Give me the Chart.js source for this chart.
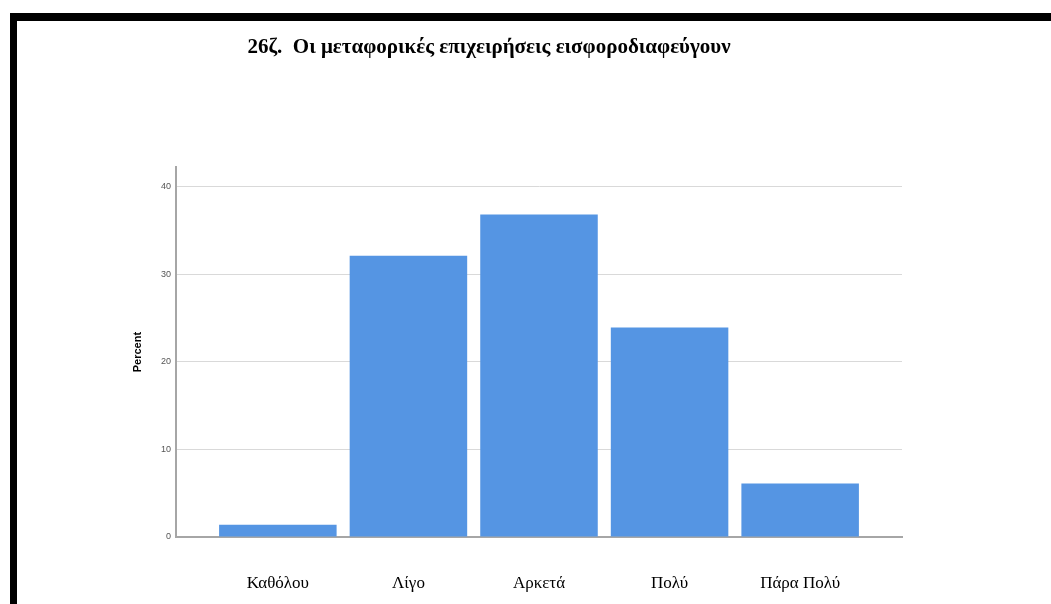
<!DOCTYPE html>
<html>
<head>
<meta charset="utf-8">
<script src="https://cdn.jsdelivr.net/npm/chart.js@4/dist/chart.umd.min.js"></script>
<style>
    html, body { margin: 0; padding: 0; background: #ffffff; }
    #wrap { position: relative; width: 1051px; height: 604px; overflow: hidden; }
    #chart { position: absolute; left: 0; top: 0; }
    .frame { position: absolute; background: #000000; }
</style>
</head>
<body>
<div id="wrap">
    <canvas id="chart" width="1051" height="604"></canvas>
    <div class="frame" style="left:10px; top:13px; width:1041px; height:8px;"></div>
    <div class="frame" style="left:10px; top:13px; width:7px; height:591px;"></div>
</div>
<script>
// Chart data
const titleText = '26ζ.  Οι μεταφορικές επιχειρήσεις εισφοροδιαφεύγουν';
const categories = ['Καθόλου', 'Λίγο', 'Αρκετά', 'Πολύ', 'Πάρα Πολύ'];
const percents = [1.4, 32.1, 36.8, 23.9, 6.1];
const yTicks = [0, 10, 20, 30, 40];

const barColor = '#5595e3';
const axisColor = '#a6a6a6';
const gridColor = '#d9d9d9';

new Chart(document.getElementById('chart').getContext('2d'), {
    type: 'bar',
    data: {
        datasets: [{
            label: 'Percent',
            data: percents.map((v, i) => ({ x: i, y: v })),
            backgroundColor: barColor,
            borderWidth: 0,
            barPercentage: 0.9,
            categoryPercentage: 1.0
        }]
    },
    options: {
        responsive: false,
        animation: false,
        layout: { padding: { left: 76, right: 149, top: 0, bottom: 12 } },
        plugins: {
            legend: { display: false },
            tooltip: { enabled: false },
            title: {
                display: true,
                text: titleText,
                color: '#000000',
                align: 'center',
                font: { family: "'Liberation Serif', serif", size: 21, weight: 'bold', lineHeight: 1.2 },
                padding: { top: 35, bottom: 107 }
            }
        },
        scales: {
            x: {
                type: 'linear',
                offset: false,
                min: -0.78,
                max: 4.78,
                afterBuildTicks: (axis) => { axis.ticks = categories.map((_, i) => ({ value: i })); },
                afterFit: (axis) => { axis.height = 55; },
                grid: { display: false, drawTicks: false, offset: false },
                border: { display: true, color: axisColor, width: 2 },
                ticks: {
                    autoSkip: false,
                    maxRotation: 0,
                    padding: 36,
                    color: '#000000',
                    font: { family: "'Liberation Serif', serif", size: 17 },
                    callback: (v) => categories[v]
                }
            },
            y: {
                min: 0,
                max: 42.2,
                afterBuildTicks: (axis) => { axis.ticks = yTicks.map(v => ({ value: v })); },
                afterFit: (axis) => { axis.width = 100; },
                grid: {
                    color: (ctx) => ctx.tick && ctx.tick.value === 0 ? 'rgba(0,0,0,0)' : gridColor,
                    lineWidth: 1,
                    drawTicks: false
                },
                border: { display: true, color: axisColor, width: 2 },
                ticks: {
                    padding: 5,
                    color: '#555555',
                    font: { family: "'Liberation Sans', Arial, sans-serif", size: 9 }
                },
                title: {
                    display: true,
                    text: 'Percent',
                    color: '#000000',
                    font: { family: "'Liberation Sans', Arial, sans-serif", size: 11, weight: 'bold', lineHeight: 1.2 },
                    padding: { top: 55, bottom: 17 }
                }
            }
        }
    }
});
</script>
</body>
</html>
